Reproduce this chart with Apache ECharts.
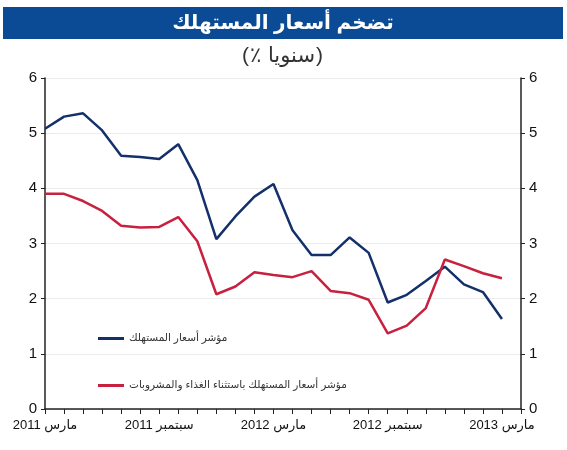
<!DOCTYPE html>
<html>
<head>
<meta charset="utf-8">
<script src="https://cdn.jsdelivr.net/npm/echarts@6/dist/echarts.min.js"></script>
<style>
  html, body { margin: 0; padding: 0; background: #fff; }
  #chart { width: 567px; height: 450px; }
</style>
</head>
<body>
<div id="chart"></div>
<script>
// months from March 2011 to April 2013 (last one is only the axis end)
var months = [
  '2011-03', '2011-04', '2011-05', '2011-06', '2011-07', '2011-08', '2011-09',
  '2011-10', '2011-11', '2011-12', '2012-01', '2012-02', '2012-03', '2012-04',
  '2012-05', '2012-06', '2012-07', '2012-08', '2012-09', '2012-10', '2012-11',
  '2012-12', '2013-01', '2013-02', '2013-03', '2013-04'
];
var tickLabels = {
  '2011-03': '2011 مارس',
  '2011-09': '2011 سبتمبر',
  '2012-03': '2012 مارس',
  '2012-09': '2012 سبتمبر',
  '2013-03': '2013 مارس'
};
var seriesNames = [
  'مؤشر أسعار المستهلك',
  'مؤشر أسعار المستهلك باستثناء الغذاء والمشروبات'
];
var cpi = [5.08, 5.30, 5.36, 5.05, 4.59, 4.57, 4.53, 4.80, 4.15, 3.08, 3.49, 3.85, 4.08,
           3.24, 2.79, 2.79, 3.11, 2.83, 1.93, 2.07, 2.32, 2.58, 2.26, 2.12, 1.63];
var cpiCore = [3.90, 3.90, 3.77, 3.59, 3.32, 3.29, 3.30, 3.48, 3.04, 2.08, 2.22, 2.48, 2.43,
               2.39, 2.50, 2.14, 2.10, 1.98, 1.37, 1.51, 1.83, 2.71, 2.59, 2.46, 2.37];
var yTicks = [0, 1, 2, 3, 4, 5, 6];

var titleText = 'تضخم أسعار المستهلك';
// subtitle "(٪ سنويا)" in pieces so the bidi reordering can't move the percent sign
var subtitleParts = ['(', '٪', 'سنويا', ')'];

var font = '"Liberation Sans", Arial, "DejaVu Sans", sans-serif';

var subText = function(txt, x, align) {
  return {
    type: 'text',
    x: x, y: 56,
    style: {
      text: txt, fill: '#333', font: '21px ' + font,
      textAlign: align, textVerticalAlign: 'middle'
    }
  };
};

var yAxisBase = function(pos) {
  return {
    type: 'value',
    position: pos,
    min: yTicks[0],
    max: yTicks[yTicks.length - 1],
    interval: 1,
    axisLine: { show: true, lineStyle: { color: '#222', width: 1.5 } },
    axisTick: { show: true, length: 4, lineStyle: { color: '#222' } },
    axisLabel: { color: '#111', fontSize: 15, fontFamily: font, margin: 8 },
    splitLine: { show: pos === 'left', lineStyle: { color: '#ececec', width: 1 } }
  };
};

var legendBase = function(name, top) {
  return {
    orient: 'vertical',
    left: 98,
    top: top,
    padding: 0,
    itemWidth: 26,
    itemHeight: 3,
    itemGap: 0,
    icon: 'rect',
    textStyle: { color: '#333', fontSize: 10.5, fontFamily: font },
    data: [name]
  };
};

var option = {
  animation: false,
  backgroundColor: '#fff',
  color: ['#14306a', '#c8203f'],
  graphic: [
    {
      type: 'rect',
      shape: { x: 3, y: 7, width: 560, height: 32 },
      style: { fill: '#0b4a94' }
    },
    {
      type: 'text',
      x: 283, y: 23,
      style: {
        text: titleText, fill: '#fff', font: 'bold 20px ' + font,
        textAlign: 'center', textVerticalAlign: 'middle'
      }
    },
    subText(subtitleParts[0], 242, 'left'),
    subText(subtitleParts[1], 250, 'left'),
    subText(subtitleParts[2], 315, 'right'),
    subText(subtitleParts[3], 316, 'left')
  ],
  legend: [legendBase(seriesNames[0], 333), legendBase(seriesNames[1], 380)],
  grid: { left: 45, right: 46, top: 78, bottom: 41 },
  xAxis: {
    type: 'category',
    data: months,
    boundaryGap: false,
    axisLine: { lineStyle: { color: '#222', width: 1.5 } },
    axisTick: { show: true, interval: 0, length: 5, inside: false, lineStyle: { color: '#222' } },
    axisLabel: {
      interval: 5,
      color: '#111',
      fontSize: 13,
      fontFamily: font,
      margin: 10,
      formatter: function(v) { return tickLabels[v] || ''; }
    },
    splitLine: { show: false }
  },
  yAxis: [yAxisBase('left'), yAxisBase('right')],
  series: [
    {
      name: seriesNames[0],
      type: 'line',
      data: cpi,
      showSymbol: false,
      lineStyle: { width: 2.5 }
    },
    {
      name: seriesNames[1],
      type: 'line',
      data: cpiCore,
      showSymbol: false,
      lineStyle: { width: 2.5 }
    }
  ]
};

var myChart = echarts.init(document.getElementById('chart'));
myChart.setOption(option);
</script>
</body>
</html>
